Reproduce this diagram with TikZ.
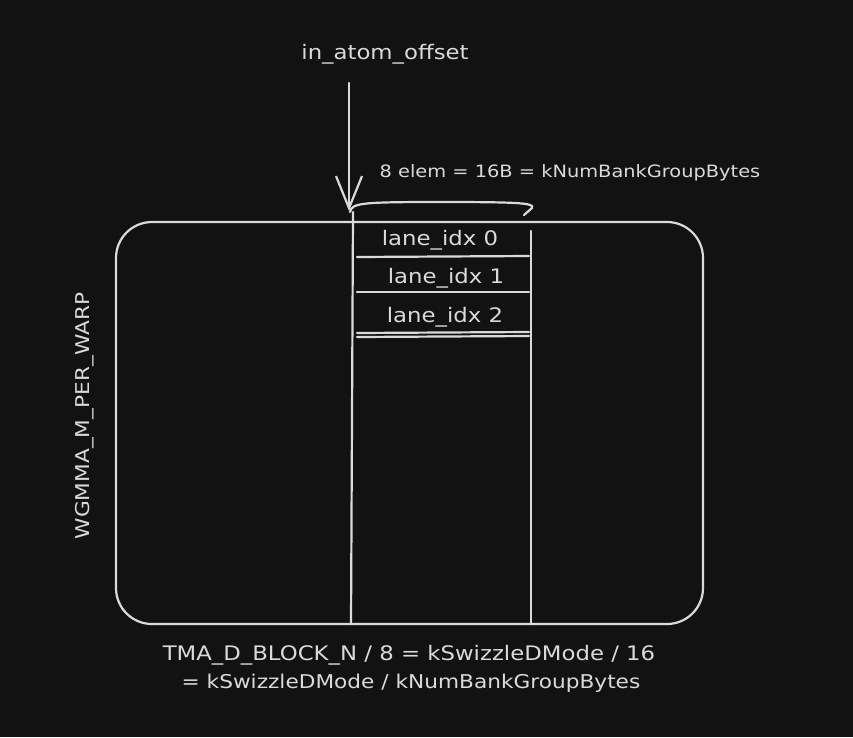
\documentclass[tikz,border=0pt]{standalone}
\usepackage{fontspec}
\setmainfont{DejaVu Sans}[FakeStretch=1.14]
\usetikzlibrary{arrows.meta}
\definecolor{bgdark}{HTML}{121212}
\definecolor{ink}{HTML}{DADADA}
\tikzset{
  sketch/.style={draw=ink,line width=2.2pt,line cap=round,line join=round},
  lbl/.style={text=ink,font=\fontsize{20}{24}\selectfont,inner sep=0pt},
  small lbl/.style={lbl,font=\fontsize{19}{23}\selectfont},
  barb/.style={-{Straight Barb[length=32pt,width=26pt,line width=2.2pt]}}
}
\begin{document}
\begin{tikzpicture}[x=1pt,y=-1pt]
\fill[bgdark] (0,0) rectangle (853,737);
\useasboundingbox (0,0) rectangle (853,737);
% outer block
\draw[sketch,rounded corners=36pt] (116,222) rectangle (703,624);
% column of lanes
\draw[sketch] (353,212) -- (351,624);
\draw[sketch] (531,231) -- (531,624);
\draw[sketch] (357,257) -- (529,256);
\draw[sketch] (357,292) -- (529,292);
\draw[sketch] (357,333) -- (529,332);
\draw[sketch] (357,337) -- (529,336);
\node[lbl] (lane0) at (440,240) {lane\_idx 0};
\node[lbl] (lane1) at (446,278) {lane\_idx 1};
\node[lbl] (lane2) at (445,317) {lane\_idx 2};
% offset arrow
\node[lbl] (offset) at (385,54) {in\_atom\_offset};
\coordinate (start) at (349,83);
\coordinate (tip) at (349,211);
\draw[sketch,barb] (start) -- (tip);
% width brace
\coordinate (wl) at (350,212);
\coordinate (wr) at (524,215);
\draw[sketch] (wl) .. controls (352,203) and (360,202) .. (440,202)
  .. controls (520,202) and (535,203) .. (532,208) -- (wr);
\node[lbl,font=\fontsize{17}{21}\selectfont] (width) at (570,173) {8 elem = 16B = kNumBankGroupBytes};
% side and bottom labels
\node[small lbl,rotate=90] (rows) at (85,416) {WGMMA\_M\_PER\_WARP};
\node[lbl] (div1) at (409,655) {TMA\_D\_BLOCK\_N / 8 = kSwizzleDMode / 16};
\node[small lbl] (div2) at (411,683) {= kSwizzleDMode / kNumBankGroupBytes};
\end{tikzpicture}
\end{document}
